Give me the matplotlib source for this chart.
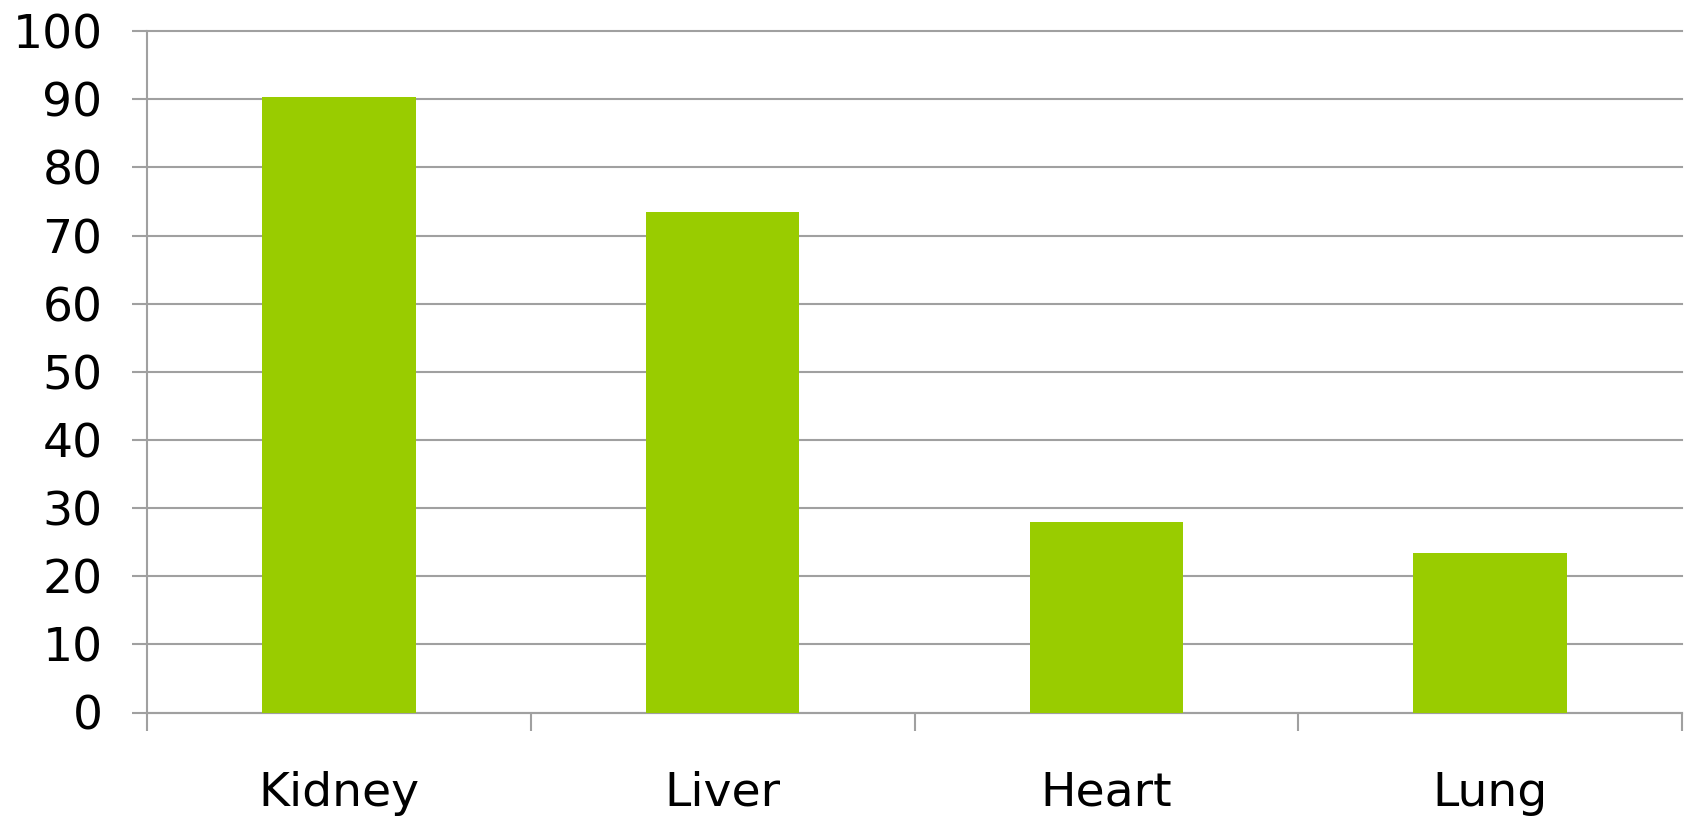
import matplotlib
matplotlib.use("Agg")
import matplotlib.pyplot as plt
import numpy as np

organs = ["Kidney", "Liver", "Heart", "Lung"]
values = [90.3, 73.4, 27.9, 23.4]
y_ticks = [0, 10, 20, 30, 40, 50, 60, 70, 80, 90, 100]

bar_color = "#99cc00"
grid_color = "#a0a0a0"

fig = plt.figure(figsize=(16.85, 8.19), dpi=100)
ax = fig.add_axes([147 / 1685, 1 - 712.5 / 819, (1682 - 147) / 1685, (712.5 - 31.2) / 819])

x = np.arange(len(organs))
ax.bar(x, values, width=0.4, color=bar_color, zorder=3)

ax.set_xlim(-0.5, len(organs) - 0.5)
ax.set_ylim(0, 100)
ax.set_yticks(y_ticks)
ax.yaxis.grid(True, color=grid_color, linewidth=1.5, zorder=0)
# keep the top gridline at full width instead of clipped at the axes edge
for line in ax.get_ygridlines():
    line.set_clip_on(False)

# category labels at the centres, tick marks on the boundaries between them
ax.set_xticks(x)
ax.set_xticklabels(organs)
ax.set_xticks(np.arange(len(organs) + 1) - 0.5, minor=True)
ax.tick_params(axis="x", which="major", length=0, pad=42, labelsize=34)
ax.tick_params(axis="x", which="minor", length=13, width=1.5, color=grid_color)
ax.tick_params(axis="y", length=11, width=1.5, color=grid_color, pad=21, labelsize=34)

for side in ["top", "right"]:
    ax.spines[side].set_visible(False)
for side in ["left", "bottom"]:
    ax.spines[side].set_color(grid_color)
    ax.spines[side].set_linewidth(1.5)

fig.savefig("out.png", dpi=100)
